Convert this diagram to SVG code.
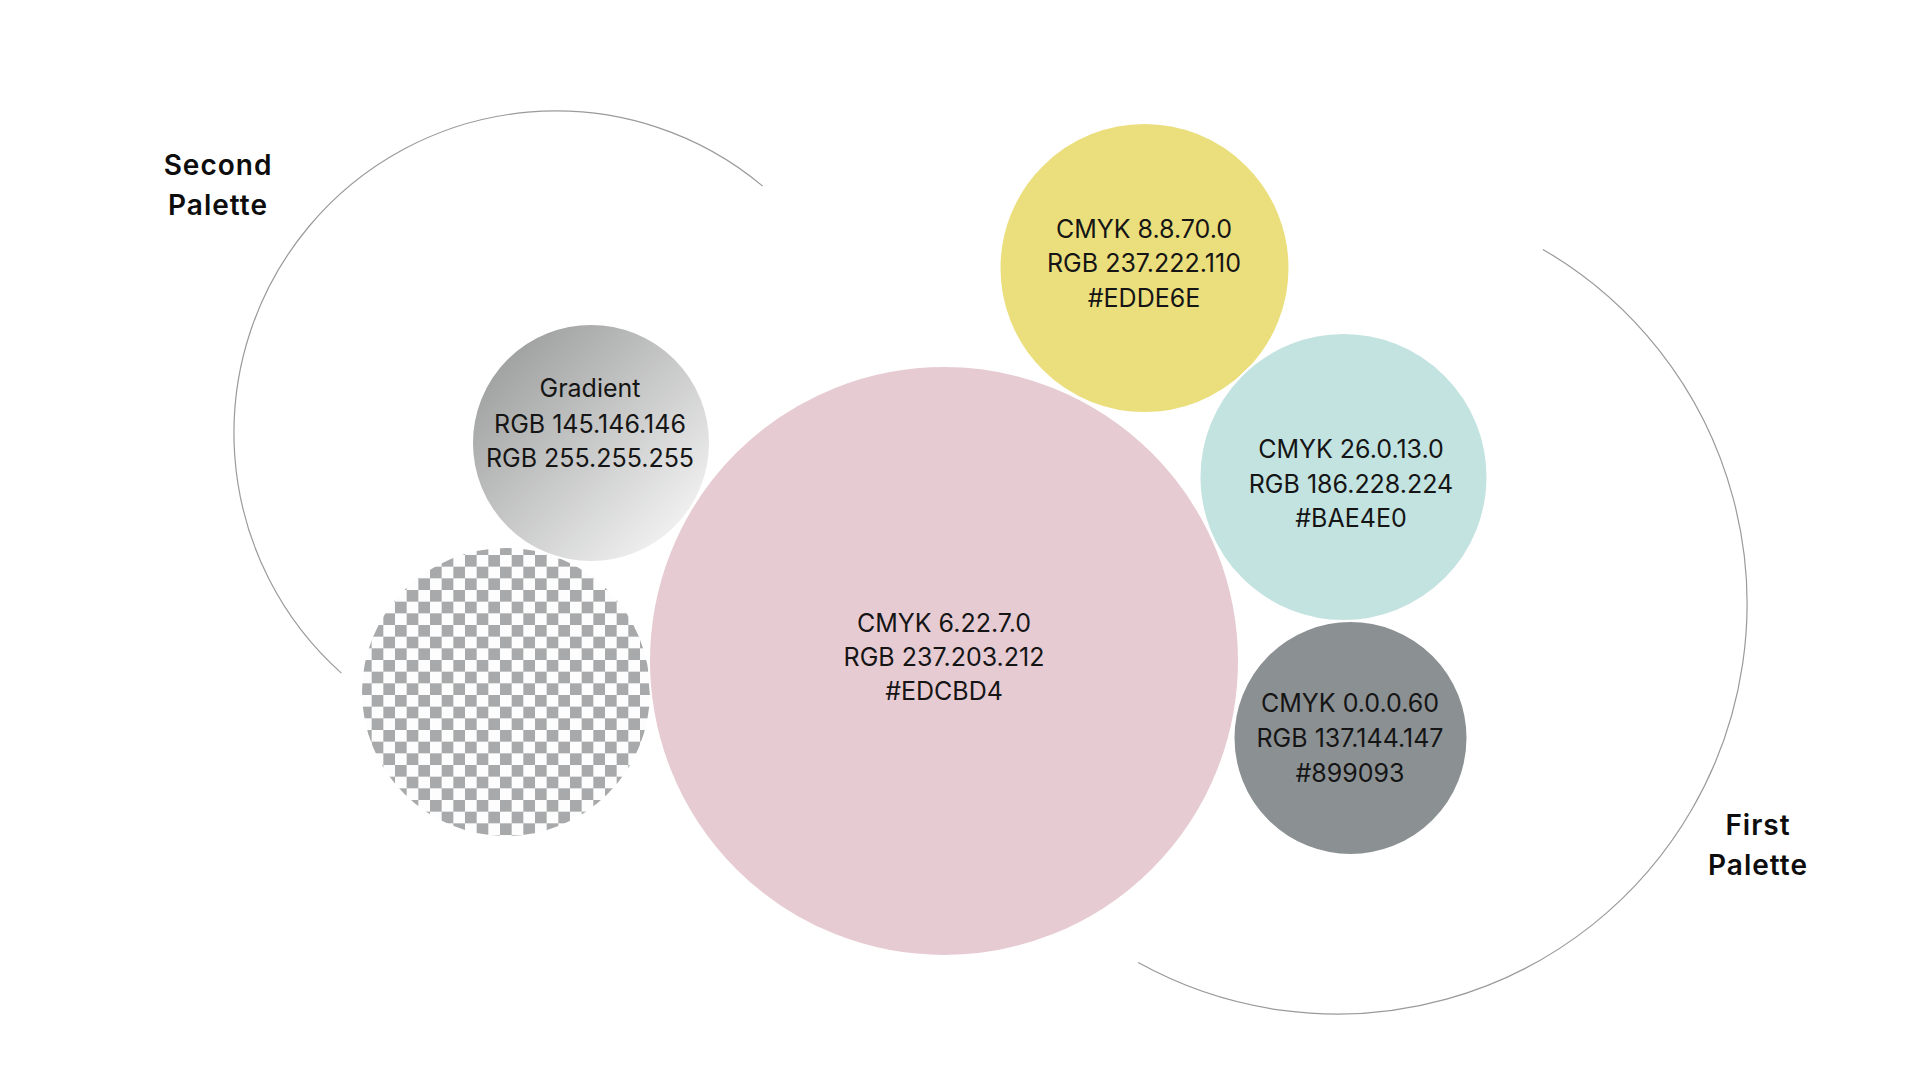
<svg xmlns="http://www.w3.org/2000/svg" width="1920" height="1080" viewBox="0 0 1920 1080">
  <defs>
    <linearGradient id="grad" x1="0" y1="0" x2="1" y2="1">
      <stop offset="0" stop-color="#919292"/>
      <stop offset="1" stop-color="#ffffff"/>
    </linearGradient>
    <pattern id="checker" patternUnits="userSpaceOnUse" x="395" y="578.33" width="23.333" height="23.333">
      <rect x="0" y="0" width="23.333" height="23.333" fill="#fdfdfd"/>
      <rect x="0" y="0" width="11.667" height="11.667" fill="#a8a9aa"/>
      <rect x="11.667" y="11.667" width="11.667" height="11.667" fill="#a8a9aa"/>
    </pattern>
    <style>
      .t { font-family: "Inter", "Liberation Sans", sans-serif; font-size: 25px; fill: #151515; text-anchor: middle; }
      .lbl { font-family: "Inter", "Liberation Sans", sans-serif; font-size: 28px; font-weight: 600; letter-spacing: 1px; fill: #0d0d0d; text-anchor: middle; }
      .arc { fill: none; stroke: #9a9a9a; stroke-width: 1.2; }
      .dot { stroke: #ffffff; stroke-width: 2; }
    </style>
  </defs>
  <rect width="1920" height="1080" fill="#ffffff"/>

  <g id="connectors">
    <path class="arc" d="M 341.4 673.1 A 322 322 0 0 1 309.3 226.0 A 322 322 0 0 1 762.7 186.1"/>
    <path class="arc" d="M 1542.9 249.4 A 410 410 0 0 1 1692.1 809 A 410 410 0 0 1 1138.2 962.6"/>
  </g>

  <g id="second-palette-label">
    <text class="lbl" x="218" y="175">Second</text>
    <text class="lbl" x="218" y="215">Palette</text>
  </g>
  <g id="first-palette-label">
    <text class="lbl" x="1758" y="835">First</text>
    <text class="lbl" x="1758" y="875">Palette</text>
  </g>

  <g id="transparent">
    <circle cx="506" cy="692" r="144" fill="url(#checker)"/>
  </g>

  <g id="gradient">
    <circle class="dot" cx="591" cy="443" r="119" fill="url(#grad)"/>
    <text class="t" x="590" y="397">Gradient</text>
    <text class="t" x="590" y="433">RGB 145.146.146</text>
    <text class="t" x="590" y="467">RGB 255.255.255</text>
  </g>

  <g id="pink">
    <circle class="dot" cx="944" cy="661" r="295" fill="#e7cbd3"/>
    <text class="t" x="944" y="632">CMYK 6.22.7.0</text>
    <text class="t" x="944" y="666">RGB 237.203.212</text>
    <text class="t" x="944" y="700">#EDCBD4</text>
  </g>

  <g id="yellow">
    <circle class="dot" cx="1144.5" cy="268" r="145" fill="#ebdf7d"/>
    <text class="t" x="1144" y="238">CMYK 8.8.70.0</text>
    <text class="t" x="1144" y="272">RGB 237.222.110</text>
    <text class="t" x="1144" y="307">#EDDE6E</text>
  </g>

  <g id="teal">
    <circle class="dot" cx="1343.5" cy="477" r="144" fill="#c3e3e0"/>
    <text class="t" x="1351" y="458">CMYK 26.0.13.0</text>
    <text class="t" x="1351" y="493">RGB 186.228.224</text>
    <text class="t" x="1351" y="527">#BAE4E0</text>
  </g>

  <g id="grey">
    <circle class="dot" cx="1350.5" cy="738" r="117" fill="#8b9093"/>
    <text class="t" x="1350" y="712">CMYK 0.0.0.60</text>
    <text class="t" x="1350" y="747">RGB 137.144.147</text>
    <text class="t" x="1350" y="782">#899093</text>
  </g>
</svg>
